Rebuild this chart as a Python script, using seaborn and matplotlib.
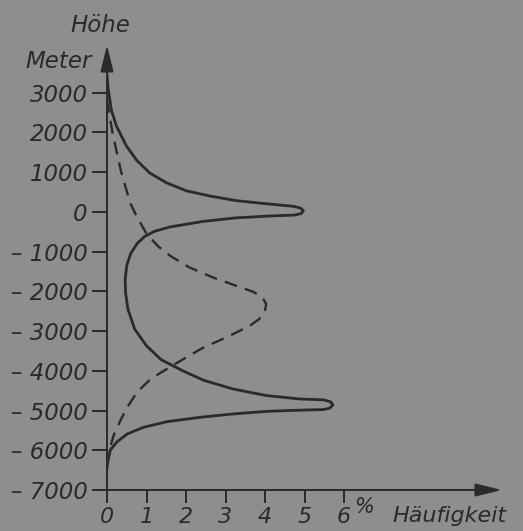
import pandas as pd
import matplotlib
matplotlib.use('Agg')
import matplotlib.pyplot as plt
import seaborn as sns

# Kurvenpunkte (Häufigkeit in %, Höhe in m)
solid_x = [0.0, 0.03, 0.11, 0.24, 0.49, 0.75, 1.08, 1.51, 2.01, 2.6, 3.29, 4.13, 4.72, 4.9,
           4.97, 4.92, 4.75, 4.2, 3.27, 2.43, 1.59, 1.2, 0.95, 0.76, 0.6, 0.5, 0.46, 0.47, 0.53, 0.7,
           1.0, 1.37, 1.94, 2.45, 3.2, 4.05, 4.89, 5.48, 5.66, 5.72, 5.64, 5.48, 4.89, 4.05,
           3.2, 2.36, 1.52, 0.93, 0.51, 0.25, 0.08, 0.02, 0.0]
solid_y = [3450, 3100, 2560, 2160, 1660, 1300, 980, 730, 530, 400, 280, 195, 140, 95,
           30, -40, -80, -100, -150, -240, -380, -490, -620, -800, -1050, -1350, -1700, -2030, -2450, -2950,
           -3370, -3720, -4010, -4240, -4460, -4625, -4710, -4730, -4780, -4860, -4940, -4975, -4990, -5020,
           -5085, -5170, -5280, -5420, -5590, -5790, -6000, -6290, -6450]

dashed_x = [0.0, 0.07, 0.14, 0.27, 0.36, 0.5, 0.6, 0.74, 1.0, 1.3, 1.59, 2.09, 2.68, 3.27,
            3.7, 3.93, 4.03, 3.99, 3.85, 3.61, 3.02, 2.43, 1.84, 1.42, 1.1, 0.76, 0.51,
            0.34, 0.17, 0.07, 0.02, 0.0]
dashed_y = [2820, 2400, 1990, 1400, 1000, 520, 200, -90, -550, -870, -1100, -1400, -1650, -1860,
            -2010, -2150, -2320, -2530, -2700, -2870, -3160, -3420, -3760, -4010, -4210, -4540, -4920,
            -5250, -5620, -5960, -6210, -6350]

x_ticks = [0, 1, 2, 3, 4, 5, 6]
y_ticks = [3000, 2000, 1000, 0, -1000, -2000, -3000, -4000, -5000, -6000, -7000]
y_labels = ['3000', '2000', '1000', '0', '– 1000', '– 2000', '– 3000', '– 4000',
            '– 5000', '– 6000', '– 7000']

bg = '#8e8e8e'
ink = '#2a2a2a'

plt.rcParams['font.family'] = ['DejaVu Sans']
plt.rcParams['font.style'] = 'italic'

df_solid = pd.DataFrame({'x': solid_x, 'y': solid_y})
df_dashed = pd.DataFrame({'x': dashed_x, 'y': dashed_y})

fig = plt.figure(figsize=(5.23, 5.31), dpi=100, facecolor=bg)
ax = fig.add_axes([107 / 523, 41 / 531, 395 / 523, 445 / 531])
ax.set_facecolor(bg)

sns.lineplot(data=df_solid, x='x', y='y', sort=False, estimator=None, color=ink, lw=2.0, ax=ax)
sns.lineplot(data=df_dashed, x='x', y='y', sort=False, estimator=None, color=ink, lw=1.7, ax=ax)
ax.lines[-1].set_dashes((5.5, 3.5))
for ln in ax.lines:
    ln.set_solid_joinstyle('round')

ax.set_xlim(0, 10)
ax.set_ylim(-7000, 4200)
for s in ax.spines.values():
    s.set_visible(False)

# Achsen mit Pfeilspitzen
arrow = dict(arrowstyle='-|>,head_length=0.9,head_width=0.22', color=ink, lw=1.4,
             shrinkA=0, shrinkB=0, mutation_scale=18)
ax.annotate('', xy=(0, 4200), xytext=(0, -7280), arrowprops=arrow, annotation_clip=False)
ax.annotate('', xy=(10, -7000), xytext=(-0.3, -7000), arrowprops=arrow, annotation_clip=False)

ax.set_xticks(x_ticks)
ax.set_xticklabels([str(t) for t in x_ticks])
ax.set_yticks(y_ticks)
ax.set_yticklabels(y_labels)
ax.tick_params(axis='y', length=11, width=1.4, pad=3, color=ink, labelcolor=ink, labelsize=16.5)
ax.tick_params(axis='x', length=9, width=1.4, pad=3, color=ink, labelcolor=ink, labelsize=16)
ax.set_xlabel('')
ax.set_ylabel('')

fig.text(100 / 523, 1 - 26 / 531, 'Höhe', ha='center', va='center', fontsize=16.5, color=ink)
fig.text(92 / 523, 1 - 62 / 531, 'Meter', ha='right', va='center', fontsize=16.5, color=ink)
fig.text(354 / 523, 1 - 507 / 531, '%', ha='left', va='center', fontsize=15, color=ink)
fig.text(392 / 523, 1 - 516 / 531, 'Häufigkeit', ha='left', va='center', fontsize=16, color=ink)

fig.savefig('out.png', dpi=100, facecolor=bg)
